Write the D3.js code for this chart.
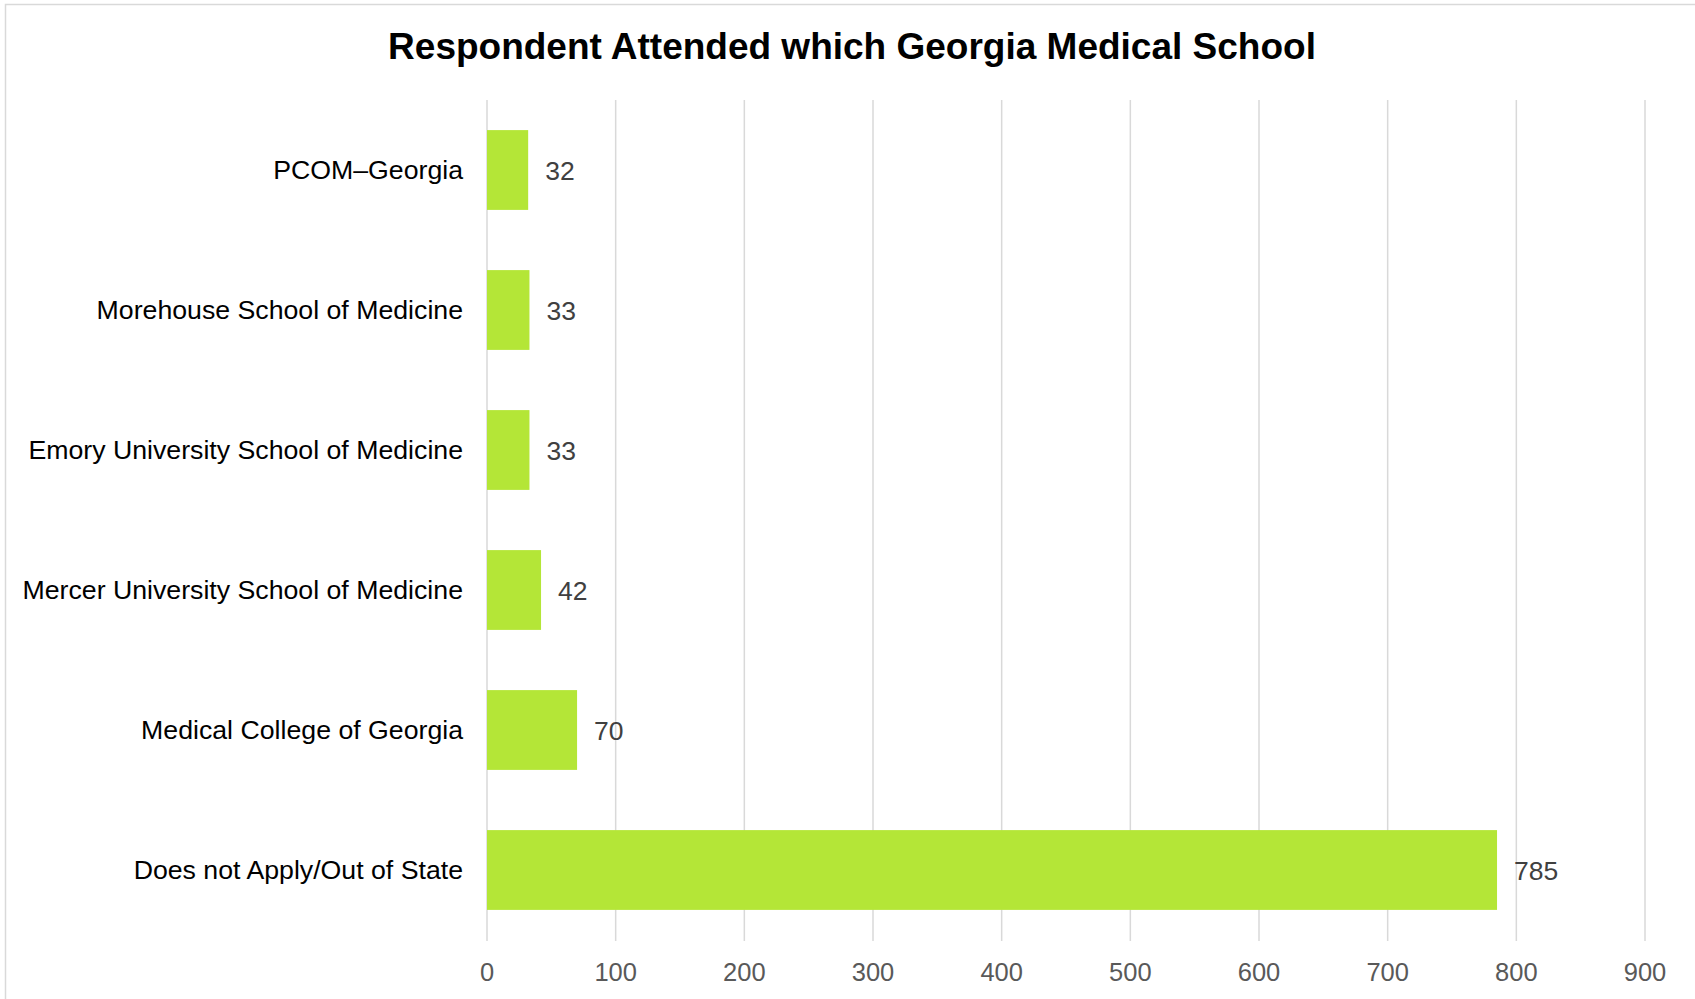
<!DOCTYPE html>
<html>
<head>
<meta charset="utf-8">
<script src="https://cdn.jsdelivr.net/npm/d3@7"></script>
<style>
  body { margin: 0; background: #fff; }
  svg { display: block; font-family: "Liberation Sans", Arial, sans-serif; }
</style>
</head>
<body>
<svg id="chart" width="1695" height="999"></svg>
<script>
// Chart data
const schools = [
    "PCOM\u2013Georgia",
    "Morehouse School of Medicine",
    "Emory University School of Medicine",
    "Mercer University School of Medicine",
    "Medical College of Georgia",
    "Does not Apply/Out of State"
];
const counts = [32, 33, 33, 42, 70, 785];
const xTicks = [0, 100, 200, 300, 400, 500, 600, 700, 800, 900];
const title = "Respondent Attended which Georgia Medical School";

const svg = d3.select("#chart");

// Outer border
svg.append("rect")
    .attr("x", 5.5).attr("y", 4.5)
    .attr("width", 1700).attr("height", 1000)
    .attr("fill", "none")
    .attr("stroke", "#d9d9d9")
    .attr("stroke-width", 1.5);

svg.append("text")
    .attr("x", 852).attr("y", 46)
    .attr("dy", "0.35em")
    .attr("text-anchor", "middle")
    .attr("font-size", 37)
    .attr("font-weight", "bold")
    .attr("fill", "#000")
    .text(title);

const x = d3.scaleLinear().domain([0, 900]).range([487, 1645]);
const y = d3.scaleBand().domain(schools).range([100, 940])
    .paddingInner(0.43).paddingOuter(0.215);

// Vertical gridlines
svg.append("g")
    .selectAll("line")
    .data(xTicks)
    .enter()
    .append("line")
    .attr("x1", d => x(d)).attr("x2", d => x(d))
    .attr("y1", 100).attr("y2", 941)
    .attr("stroke", "#d9d9d9")
    .attr("stroke-width", 1.5);

// Tick labels
svg.append("g")
    .selectAll("text")
    .data(xTicks)
    .enter()
    .append("text")
    .attr("x", d => x(d))
    .attr("y", 972)
    .attr("dy", "0.35em")
    .attr("text-anchor", "middle")
    .attr("font-size", 25.5)
    .attr("fill", "#595959")
    .text(d => d);

const rows = schools.map((s, i) => ({ school: s, value: counts[i] }));

// Bars
svg.append("g")
    .selectAll("rect")
    .data(rows)
    .enter()
    .append("rect")
    .attr("x", x(0))
    .attr("y", d => y(d.school))
    .attr("width", d => x(d.value) - x(0))
    .attr("height", y.bandwidth())
    .attr("fill", "#b4e637");

// Value labels
svg.append("g")
    .selectAll("text")
    .data(rows)
    .enter()
    .append("text")
    .attr("x", d => x(d.value) + 17)
    .attr("y", d => y(d.school) + y.bandwidth() / 2 + 1)
    .attr("dy", "0.35em")
    .attr("font-size", 26.5)
    .attr("fill", "#404040")
    .text(d => d.value);

// Category labels
svg.append("g")
    .selectAll("text")
    .data(rows)
    .enter()
    .append("text")
    .attr("x", 463)
    .attr("y", d => y(d.school) + y.bandwidth() / 2)
    .attr("dy", "0.35em")
    .attr("text-anchor", "end")
    .attr("font-size", 26.7)
    .attr("fill", "#000")
    .text(d => d.school);
</script>
</body>
</html>
